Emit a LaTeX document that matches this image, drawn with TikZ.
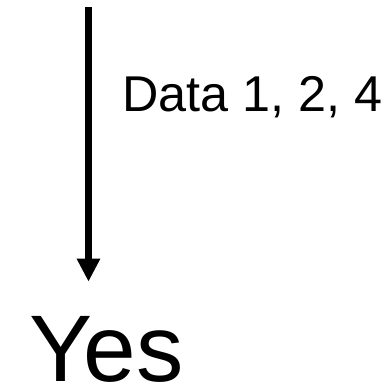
\documentclass[tikz,border=0pt]{standalone}
\usepackage{fontspec}
\setmainfont{Liberation Sans}
\usetikzlibrary{arrows.meta}

\begin{document}
\begin{tikzpicture}[x=1bp,y=1bp,
	flow/.style={line width=7bp,-{Triangle[width=22bp,length=23bp]}},
	lbl/.style={inner sep=0pt,font=\fontsize{50.5}{56}\selectfont},
	ans/.style={inner sep=0pt,font=\fontsize{95}{105}\selectfont}]
	\useasboundingbox (0,0) rectangle (390,385);
	\coordinate (top) at (88.5,378);
	\node[ans,anchor=base west] (yes) at (29,4) {Yes};
	\node[lbl,anchor=west] (data) at (122,288) {Data 1, 2, 4};
	\draw[flow,shorten >=34bp] (top) -- (top |- yes.north);
\end{tikzpicture}
\end{document}
